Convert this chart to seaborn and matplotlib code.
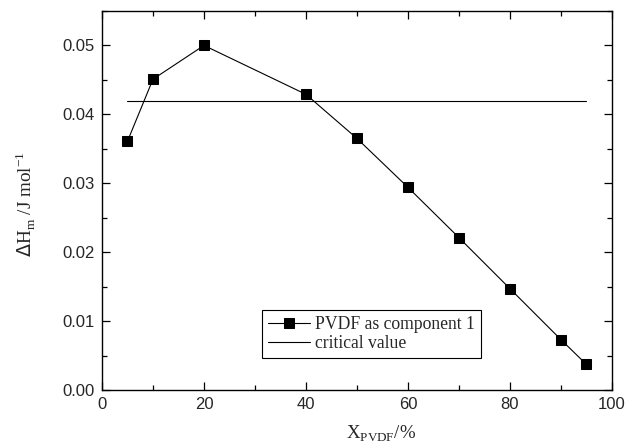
import numpy as np
import pandas as pd
import matplotlib
matplotlib.use("Agg")
import matplotlib.pyplot as plt
import seaborn as sns
from matplotlib.ticker import MultipleLocator

# data
x_pvdf = [5, 10, 20, 40, 50, 60, 70, 80, 90, 95]
dh_m = [0.0361, 0.0451, 0.0500, 0.0429, 0.0365, 0.0294, 0.0221, 0.0147, 0.0073, 0.0037]
critical = 0.0419
crit_x = [5, 95]

df = pd.DataFrame({"x": x_pvdf, "y": dh_m})
crit = pd.DataFrame({"x": crit_x, "y": [critical, critical]})

sns.set_style("ticks")
plt.rcParams["font.family"] = ["Liberation Sans", "DejaVu Sans"]

fig = plt.figure(figsize=(6.28, 4.48), dpi=100)
ax = fig.add_axes([0.1624, 0.1295, 0.8121, 0.846])

sns.lineplot(data=df, x="x", y="y", ax=ax, color="black", lw=0.8,
             marker="s", markersize=6.5, markeredgecolor="black",
             label="PVDF as component 1")
sns.lineplot(data=crit, x="x", y="y", ax=ax, color="black", lw=0.8,
             label="critical value")

ax.set_xlim(0, 100)
ax.set_ylim(0, 0.055)
ax.xaxis.set_major_locator(MultipleLocator(20))
ax.xaxis.set_minor_locator(MultipleLocator(10))
ax.yaxis.set_minor_locator(MultipleLocator(0.005))
ax.set_yticks([0, 0.01, 0.02, 0.03, 0.04, 0.05])
ax.set_yticklabels(["0.00", "0.01", "0.02", "0.03", "0.04", "0.05"])
ax.tick_params(which="both", direction="in", top=True, right=True,
               labelsize=12, width=0.9, color="black", pad=5)
ax.tick_params(which="major", length=6)
ax.tick_params(which="minor", length=3.5)
for s in ax.spines.values():
    s.set_linewidth(1.0)
    s.set_color("black")

ax.set_xlabel(r"X$_{\mathregular{PVDF}}$/%", family="Liberation Serif", fontsize=13.5)
ax.xaxis.set_label_coords(0.547, -0.088)
ax.set_ylabel(r"$\Delta$H$_{\mathregular{m}}$ /J mol$^{\mathregular{-1}}$", family="Liberation Serif",
              fontsize=13.8)
ax.yaxis.set_label_coords(-0.126, 0.49)

leg = ax.legend(loc="lower left", bbox_to_anchor=(0.3137, 0.0844), borderaxespad=0,
                frameon=True, fancybox=False,
                edgecolor="black", framealpha=1, borderpad=0.35, handlelength=2.4,
                handletextpad=0.25, labelspacing=0.12, prop={"family": "Liberation Serif", "size": 12.7})
leg.get_frame().set_linewidth(0.8)

fig.savefig("out.png", dpi=100)
